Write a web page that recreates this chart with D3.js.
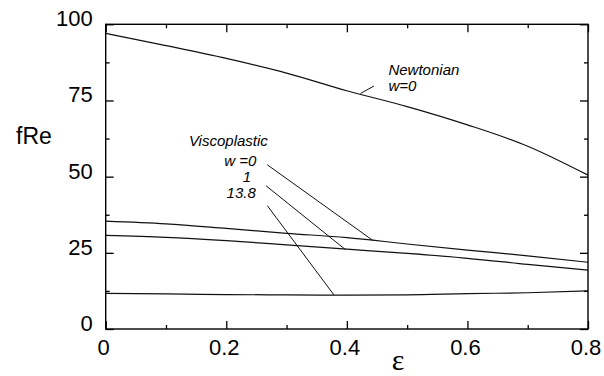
<!DOCTYPE html>
<html>
<head>
<meta charset="utf-8">
<script src="https://cdn.jsdelivr.net/npm/d3@7"></script>
<style>
  body { margin: 0; background: #fff; }
  svg { display: block; }
  text { font-family: "Liberation Sans", Arial, sans-serif; fill: #000; }
</style>
</head>
<body>
<svg id="chart" width="604" height="376"></svg>
<script>
// eccentricity values
const eps = [0, 0.1, 0.2, 0.3, 0.4, 0.5, 0.6, 0.7, 0.8];

// fRe
const newtonian = [97.0, 93.0, 88.8, 84.0, 78.2, 73.0, 67.0, 60.0, 50.5];
const viscoW0   = [35.4, 34.5, 33.0, 31.4, 30.0, 27.9, 25.9, 24.0, 21.9];
const viscoW1   = [30.7, 30.1, 29.0, 27.6, 26.2, 24.8, 23.2, 21.2, 19.3];
const viscoW138 = [11.7, 11.5, 11.3, 11.2, 11.1, 11.2, 11.6, 11.9, 12.5];

const xTicks = [0, 0.2, 0.4, 0.6, 0.8];
const xMinor = [0.1, 0.3, 0.5, 0.7];
const yTicks = [0, 25, 50, 75, 100];
const yMinor = [12.5, 37.5, 62.5, 87.5];

// annotation labels (data coords) and leader lines
const labels = [
    { t: 'Newtonian', x: 0.469, y: 83.5, anchor: 'start' },
    { t: 'w=0', x: 0.469, y: 78.2, anchor: 'start' },
    { t: 'Viscoplastic', x: 0.138, y: 60.2, anchor: 'start' },
    { t: 'w =0', x: 0.25, y: 53.5, anchor: 'end' },
    { t: '1', x: 0.241, y: 48.2, anchor: 'end' },
    { t: '13.8', x: 0.249, y: 42.9, anchor: 'end' }
];
const leaders = [
    [[0.4227, 77.3], [0.445, 79.75]],
    [[0.268, 53.9], [0.4436, 29.0]],
    [[0.266, 47.0], [0.398, 26.0]],
    [[0.268, 40.5], [0.3785, 11.2]]
];

const svg = d3.select('#chart');
const mLeft = 105.7, mRight = 588, mTop = 24.3, mBottom = 329;

const x = d3.scaleLinear().domain([0, 0.8]).range([mLeft, mRight]);
const y = d3.scaleLinear().domain([0, 100]).range([mBottom, mTop]);

// ticks, inward on all four sides
const tickAxis = (axis, scale, vals, size, tx, ty) => {
    svg.append('g')
        .attr('transform', `translate(${tx},${ty})`)
        .call(axis(scale).tickValues(vals).tickSize(size).tickFormat(''))
        .call(g => g.select('.domain').remove())
        .call(g => g.selectAll('line').attr('stroke', '#000').attr('stroke-width', 1.3));
};
tickAxis(d3.axisBottom, x, xTicks, -8, 0, mBottom);
tickAxis(d3.axisBottom, x, xMinor, -4, 0, mBottom);
tickAxis(d3.axisTop, x, xTicks, -8, 0, mTop);
tickAxis(d3.axisTop, x, xMinor, -4, 0, mTop);
tickAxis(d3.axisLeft, y, yTicks, -8, mLeft, 0);
tickAxis(d3.axisLeft, y, yMinor, -4, mLeft, 0);
tickAxis(d3.axisRight, y, yTicks, -8, mRight, 0);
tickAxis(d3.axisRight, y, yMinor, -4, mRight, 0);

// frame
svg.append('rect')
    .attr('x', mLeft).attr('y', mTop)
    .attr('width', mRight - mLeft).attr('height', mBottom - mTop)
    .attr('fill', 'none').attr('stroke', '#000').attr('stroke-width', 1.4);

// tick labels
svg.selectAll('.xl').data(xTicks).enter().append('text')
    .attr('x', d => x(d) - 2).attr('y', mBottom + 25.5)
    .attr('text-anchor', 'middle').attr('font-size', 22)
    .text(d => d === 0 ? '0' : d3.format('.1f')(d));
svg.selectAll('.yl').data(yTicks).enter().append('text')
    .attr('x', mLeft - 13).attr('y', d => y(d) + 2)
    .attr('text-anchor', 'end').attr('font-size', 22)
    .text(d => d);

// axis titles
svg.append('text').attr('x', 34).attr('y', 144)
    .attr('text-anchor', 'middle').attr('font-size', 23).text('fRe');
svg.append('text').attr('x', 398).attr('y', 370)
    .attr('text-anchor', 'middle').attr('font-size', 30)
    .style('font-family', '"Liberation Serif", "DejaVu Serif", serif')
    .text('ε');

// curves
const line = d3.line()
    .x((d, i) => x(eps[i]))
    .y(d => y(d))
    .curve(d3.curveMonotoneX);
[newtonian, viscoW0, viscoW1, viscoW138].forEach(s => {
    svg.append('path')
        .attr('d', line(s))
        .attr('fill', 'none')
        .attr('stroke', '#111')
        .attr('stroke-width', 1.2);
});

// leaders
leaders.forEach(l => {
    svg.append('line')
        .attr('x1', x(l[0][0])).attr('y1', y(l[0][1]))
        .attr('x2', x(l[1][0])).attr('y2', y(l[1][1]))
        .attr('stroke', '#111').attr('stroke-width', 1);
});

// annotation text
svg.selectAll('.ann').data(labels).enter().append('text')
    .attr('x', d => x(d.x)).attr('y', d => y(d.y))
    .attr('text-anchor', d => d.anchor)
    .attr('font-size', 15).attr('font-style', 'italic')
    .text(d => d.t);
</script>
</body>
</html>
